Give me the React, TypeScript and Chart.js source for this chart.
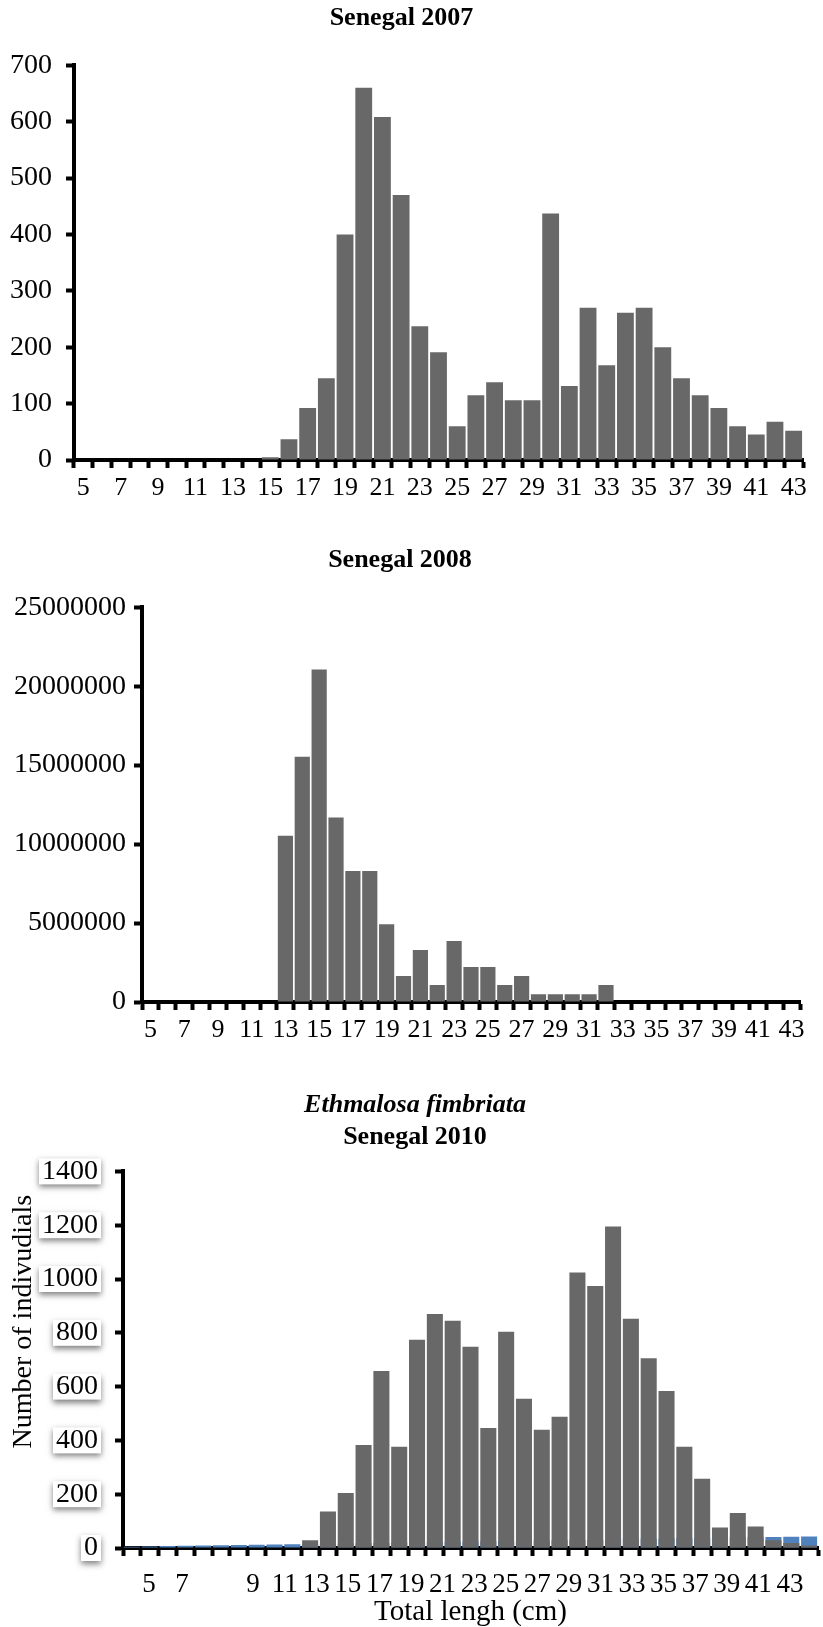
import React, { useEffect, useRef } from 'react';
import { Chart, registerables } from 'chart.js';

Chart.register(...registerables);

const FONT = "'Liberation Serif', 'Times New Roman', serif";
const GREY = '#686868';
const BLUE = '#4f81bd';

// Length classes (cm)
const lengths = ['5', '6', '7', '8', '9', '10', '11', '12', '13', '14', '15', '16', '17', '18', '19', '20', '21', '22', '23', '24', '25', '26', '27', '28', '29', '30', '31', '32', '33', '34', '35', '36', '37', '38', '39', '40', '41', '42', '43'];

// Senegal 2007
const senegal2007 = [0, 0, 0, 0, 0, 0, 0, 0, 0, 0, 5, 37, 92, 145, 400, 660, 608, 470, 237, 191, 60, 115, 138, 106, 106, 437, 131, 270, 168, 261, 270, 200, 145, 115, 92, 60, 45, 68, 52];

// Senegal 2008
const senegal2008 = [0, 0, 0, 0, 0, 0, 0, 0, 10520000, 15530000, 21050000, 11690000, 8300000, 8300000, 4920000, 1650000, 3300000, 1080000, 3870000, 2220000, 2220000, 1080000, 1650000, 490000, 490000, 490000, 490000, 1080000, 0, 0, 0, 0, 0, 0, 0, 0, 0, 0, 0];

// Senegal 2010 (Ethmalosa fimbriata)
const senegal2010 = [0, 0, 0, 0, 0, 0, 0, 0, 0, 0, 29, 136, 204, 383, 658, 376, 774, 870, 845, 748, 446, 804, 555, 440, 488, 1024, 974, 1195, 852, 705, 584, 376, 257, 76, 130, 80, 29, 19, 9];
// second (blue) series seen behind the 2010 bars
const senegal2010Blue = [5, 6, 7, 8, 9, 10, 11, 12, 13, 14, 15, 16, 17, 18, 19, 20, 21, 22, 23, 24, 25, 26, 27, 28, 29, 30, 31, 32, 33, 34, 35, 36, 37, 38, 39, 40, 41, 42, 43];

// 2010 axis labels as printed, and where they sit along the label axis
const xTickLabels2010 = ['5', '7', '9', '11', '13', '15', '17', '19', '21', '23', '25', '27', '29', '31', '33', '35', '37', '39', '41', '43'];
const xTickAnchors2010 = [2.4, 4.5, 9, 11, 13, 15, 17, 19, 21, 23, 25, 27, 29, 31, 33, 35, 37, 39, 41, 43];

const yMax2007 = 700;
const yStep2007 = 100;
const yMax2008 = 25000000;
const yStep2008 = 5000000;
const yMax2010 = 1400;
const yStep2010 = 200;

const TL = 8;
const Y_FONT = 28;
const X_FONT = 26;

const gridStyle = (offset: boolean) => ({
  display: true,
  drawOnChartArea: false,
  drawTicks: true,
  tickLength: TL,
  tickWidth: 4,
  tickColor: '#000',
  color: '#000',
  offset,
});
const borderStyle = { display: true, color: '#000', width: 4 };

const everyOther = (_v: any, i: number) => (i % 2 === 0 ? lengths[i] : '');

function makeSimple(title: string, data: number[], yMax: number, yStep: number, o: any) {
  return {
    type: 'bar',
    data: {
      labels: lengths,
      datasets: [
        {
          label: title,
          data,
          backgroundColor: GREY,
          barPercentage: 0.9,
          categoryPercentage: 1,
          xAxisID: 'x',
          yAxisID: 'y',
        },
      ],
    },
    options: {
      responsive: false,
      animation: false,
      devicePixelRatio: 1,
      layout: { padding: { left: 0, right: o.padRight, top: 0, bottom: 0 } },
      plugins: {
        legend: { display: false },
        tooltip: { enabled: false },
        title: {
          display: true,
          text: title,
          color: '#000',
          font: { family: FONT, size: 26, weight: 'bold', lineHeight: 1.2 },
          padding: { top: o.titleTop, bottom: o.titleBottom },
        },
      },
      scales: {
        x: {
          type: 'category',
          offset: true,
          grid: gridStyle(true),
          border: borderStyle,
          ticks: {
            autoSkip: false,
            maxRotation: 0,
            minRotation: 0,
            padding: 5,
            color: '#000',
            font: { family: FONT, size: X_FONT },
            callback: everyOther,
          },
          afterFit: (s: any) => {
            s.height = o.xHeight;
          },
        },
        y: {
          type: 'linear',
          min: 0,
          max: yMax,
          grid: gridStyle(false),
          border: borderStyle,
          ticks: {
            stepSize: yStep,
            padding: o.yPad,
            color: '#000',
            font: { family: FONT, size: Y_FONT },
            callback: (v: any) => String(v),
          },
          afterFit: (s: any) => {
            s.width = o.yWidth;
          },
        },
      },
    },
  };
}

const labelBoxes = {
  id: 'labelBoxes',
  beforeDraw(chart: any) {
    const s = chart.scales.y;
    const ctx = chart.ctx;
    const size = s.options.ticks.font.size;
    ctx.save();
    ctx.font = `${size}px ${FONT}`;
    const right = s.right - s.options.grid.tickLength - s.options.ticks.padding;
    s.ticks.forEach((t: any, i: number) => {
      const y = s.getPixelForTick(i);
      const w = ctx.measureText(String(t.label)).width;
      ctx.shadowColor = 'rgba(0,0,0,0.5)';
      ctx.shadowBlur = 6;
      ctx.shadowOffsetX = 0;
      ctx.shadowOffsetY = 3;
      ctx.fillStyle = '#fff';
      ctx.fillRect(right - w - 3, y - 13, w + 6, 26);
    });
    ctx.restore();
  },
};

const sideTitle = {
  id: 'sideTitle',
  afterDraw(chart: any) {
    const ctx = chart.ctx;
    const a = chart.chartArea;
    ctx.save();
    ctx.translate(24, (a.top + a.bottom) / 2 - 38);
    ctx.rotate(-Math.PI / 2);
    ctx.font = `28px ${FONT}`;
    ctx.fillStyle = '#000';
    ctx.textAlign = 'center';
    ctx.textBaseline = 'middle';
    ctx.fillText('Number of indivudials', 0, 0);
    ctx.restore();
  },
};

function make2010() {
  return {
    type: 'bar',
    data: {
      labels: lengths,
      datasets: [
        {
          label: 'Ethmalosa fimbriata',
          data: senegal2010,
          backgroundColor: GREY,
          barPercentage: 0.9,
          categoryPercentage: 1,
          grouped: false,
          xAxisID: 'x',
          yAxisID: 'y',
        },
        {
          label: 'Length',
          data: senegal2010Blue,
          backgroundColor: BLUE,
          barPercentage: 0.9,
          categoryPercentage: 1,
          grouped: false,
          xAxisID: 'x',
          yAxisID: 'y',
        },
      ],
    },
    plugins: [labelBoxes, sideTitle],
    options: {
      responsive: false,
      animation: false,
      devicePixelRatio: 1,
      layout: { padding: { left: 12, right: 5, top: 0, bottom: 0 } },
      plugins: {
        legend: { display: false },
        tooltip: { enabled: false },
        title: {
          display: true,
          text: 'Ethmalosa fimbriata',
          color: '#000',
          font: { family: FONT, size: 26, weight: 'bold', style: 'italic', lineHeight: 1.2 },
          padding: { top: 30, bottom: 0 },
        },
        subtitle: {
          display: true,
          text: 'Senegal 2010',
          color: '#000',
          font: { family: FONT, size: 26, weight: 'bold', lineHeight: 1.2 },
          padding: { top: 0, bottom: 19 },
        },
      },
      scales: {
        x: {
          type: 'category',
          offset: true,
          weight: 0,
          grid: gridStyle(true),
          border: borderStyle,
          ticks: { display: false },
          afterFit: (s: any) => {
            s.height = 10;
          },
        },
        x2: {
          type: 'linear',
          position: 'bottom',
          weight: 1,
          min: 1.86,
          max: 43.68,
          grid: { display: false },
          border: { display: false },
          afterBuildTicks: (s: any) => {
            s.ticks = xTickAnchors2010.map((v) => ({ value: v }));
          },
          ticks: {
            autoSkip: false,
            maxRotation: 0,
            minRotation: 0,
            padding: 3,
            color: '#000',
            font: { family: FONT, size: 27 },
            callback: (_v: any, i: number) => xTickLabels2010[i],
          },
          title: {
            display: true,
            text: 'Total lengh (cm)',
            color: '#000',
            font: { family: FONT, size: 29, lineHeight: 1.0 },
            padding: { top: 0, bottom: 0 },
          },
          afterFit: (s: any) => {
            s.height = 69;
          },
        },
        y: {
          type: 'linear',
          min: 0,
          max: yMax2010,
          grid: gridStyle(false),
          border: borderStyle,
          ticks: {
            stepSize: yStep2010,
            padding: 17,
            color: '#000',
            font: { family: FONT, size: Y_FONT },
            callback: (v: any) => String(v),
          },
          afterFit: (s: any) => {
            s.width = 111;
          },
        },
      },
    },
  };
}

function ChartBox({ make, top, height }: { make: () => any; top: number; height: number }) {
  const ref = useRef<HTMLCanvasElement>(null);
  useEffect(() => {
    const c = new Chart(ref.current as HTMLCanvasElement, make());
    return () => c.destroy();
  }, []);
  return (
    <div style={{ position: 'absolute', left: 0, top, width: 823, height }}>
      <canvas ref={ref} width={823} height={height} style={{ display: 'block', width: 823, height }} />
    </div>
  );
}

export default function App() {
  return (
    <div style={{ position: 'absolute', left: 0, top: 0, width: 823, height: 1627, background: '#fff' }}>
      <ChartBox
        top={0}
        height={520}
        make={() =>
          makeSimple('Senegal 2007', senegal2007, yMax2007, yStep2007, {
            padRight: 20,
            titleTop: 3,
            titleBottom: 31,
            xHeight: 60,
            yWidth: 74,
            yPad: 14,
          })
        }
      />
      <ChartBox
        top={520}
        height={540}
        make={() =>
          makeSimple('Senegal 2008', senegal2008, yMax2008, yStep2008, {
            padRight: 23,
            titleTop: 25,
            titleBottom: 31,
            xHeight: 58,
            yWidth: 142,
            yPad: 8,
          })
        }
      />
      <ChartBox top={1060} height={567} make={make2010} />
    </div>
  );
}
